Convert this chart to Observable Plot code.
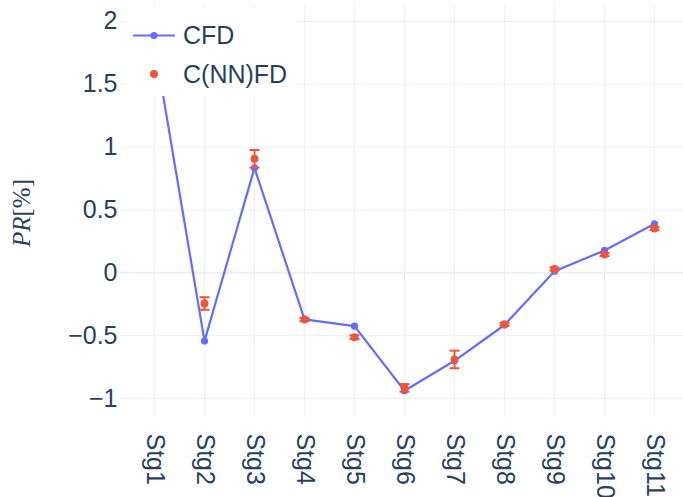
<!DOCTYPE html>
<html>
<head>
<meta charset="utf-8">
<script src="https://cdn.jsdelivr.net/npm/d3@7"></script>
<script src="https://cdn.jsdelivr.net/npm/@observablehq/plot@0.6"></script>
<style>
  html, body { margin: 0; padding: 0; background: #fff; }
  #chart { width: 683px; height: 497px; overflow: hidden; }
</style>
</head>
<body>
<div id="chart"></div>
<script>
const stages = ["Stg1","Stg2","Stg3","Stg4","Stg5","Stg6","Stg7","Stg8","Stg9","Stg10","Stg11"];
const cfd = [1.82, -0.543, 0.835, -0.371, -0.424, -0.938, -0.70, -0.415, 0.013, 0.178, 0.39];
const cnnfd = [1.80, -0.244, 0.907, -0.371, -0.512, -0.915, -0.689, -0.41, 0.03, 0.146, 0.353];
const cnnfdErr = [0.05, 0.05, 0.07, 0.012, 0.015, 0.03, 0.07, 0.012, 0.012, 0.012, 0.012];
const yTicks = [-1, -0.5, 0, 0.5, 1, 1.5, 2];
const seriesNames = ["CFD", "C(NN)FD"];

const BLUE = "#636efa", RED = "#ef553b", INK = "#2a3f5f", GRID = "#ebf0f8";
const FONT = "'Liberation Sans', Arial, sans-serif";

const cfdData = stages.map((s, i) => ({stage: s, v: cfd[i]}));
const nnData = stages.map((s, i) => ({stage: s, v: cnnfd[i], lo: cnnfd[i] - cnnfdErr[i], hi: cnnfd[i] + cnnfdErr[i]}));

const capSymbol = {
  draw(ctx) { ctx.moveTo(-5, 0); ctx.lineTo(5, 0); }
};

const chart = Plot.plot({
  width: 683,
  height: 497,
  marginLeft: 120,
  marginRight: 0,
  marginTop: 5,
  marginBottom: 80,
  style: {fontFamily: FONT, fontSize: "25px", color: INK, background: "#fff"},
  x: {type: "point", domain: stages, range: [153.6, 654], padding: 0},
  y: {domain: [-1.151, 2.127]},
  marks: [
    Plot.gridX(stages, {stroke: GRID, strokeOpacity: 1, strokeWidth: 1}),
    Plot.gridY(yTicks, {stroke: GRID, strokeOpacity: 1, strokeWidth: 1}),
    Plot.ruleY([0], {stroke: GRID, strokeWidth: 2}),
    Plot.axisY(yTicks, {tickSize: 0, tickPadding: 3, tickFormat: d => d < 0 ? "\u2212" + Math.abs(d) : String(d), fill: INK, fontSize: 25, label: null}),
    Plot.axisX({tickRotate: 90, tickSize: 0, tickPadding: 16, fill: INK, fontSize: 25, label: null}),
    Plot.line(cfdData, {x: "stage", y: "v", stroke: BLUE, strokeWidth: 2.2}),
    Plot.dot(cfdData, {x: "stage", y: "v", r: 3.6, fill: BLUE}),
    Plot.ruleX(nnData, {x: "stage", y1: "lo", y2: "hi", stroke: RED, strokeWidth: 2}),
    Plot.dot(nnData, {x: "stage", y: "lo", symbol: capSymbol, stroke: RED, strokeWidth: 2, fill: "none"}),
    Plot.dot(nnData, {x: "stage", y: "hi", symbol: capSymbol, stroke: RED, strokeWidth: 2, fill: "none"}),
    Plot.dot(nnData, {x: "stage", y: "v", r: 4, fill: RED})
  ]
});

document.getElementById("chart").appendChild(chart);

const svg = d3.select(chart);

// Legend
const lg = svg.append("g").attr("text-anchor", "start");
lg.append("rect").attr("x", 126).attr("y", 8).attr("width", 170).attr("height", 88).attr("fill", "#fff");
lg.append("line").attr("x1", 133).attr("x2", 175).attr("y1", 35.5).attr("y2", 35.5).attr("stroke", BLUE).attr("stroke-width", 2.2);
lg.append("circle").attr("cx", 154).attr("cy", 35.5).attr("r", 3.6).attr("fill", BLUE);
lg.append("circle").attr("cx", 154).attr("cy", 74).attr("r", 4).attr("fill", RED);
lg.append("text").attr("x", 183).attr("y", 44.3).attr("text-anchor", "start").attr("fill", INK).style("font-family", FONT).style("font-size", "25px").text(seriesNames[0]);
lg.append("text").attr("x", 183).attr("y", 83).attr("text-anchor", "start").attr("fill", INK).style("font-family", FONT).style("font-size", "25px").text(seriesNames[1]);

// Y axis title PR[%]
const yt = svg.append("text")
  .attr("transform", "translate(30,213) rotate(-90)")
  .attr("text-anchor", "middle")
  .attr("fill", INK)
  .style("font-family", "'Liberation Serif', 'Times New Roman', serif")
  .style("font-size", "25px");
yt.append("tspan").style("font-style", "italic").text("PR");
yt.append("tspan").text("[%]");
</script>
</body>
</html>
